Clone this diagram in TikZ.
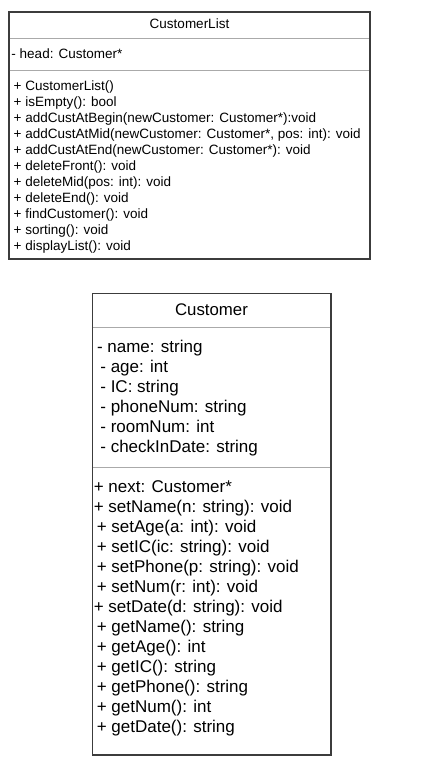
\documentclass[tikz,border=0pt]{standalone}
\usepackage{fontspec}
\setmainfont{Liberation Sans}
\definecolor{boxline}{RGB}{60,60,60}
\definecolor{sepline}{RGB}{170,170,170}
\begin{document}
\begin{tikzpicture}[x=1pt,y=-1pt,
  umlbox/.style={draw=boxline,line width=1.3pt,fill=white,inner sep=0pt},
  sep/.style={draw=sepline,line width=1pt},
  smalltxt/.style={anchor=base west,inner sep=0pt,font=\fontsize{13.5}{16}\selectfont},
  bigtxt/.style={anchor=base west,inner sep=0pt,font=\fontsize{17}{20}\selectfont},
  smalltitle/.style={anchor=base,inner sep=0pt,font=\fontsize{13.5}{16}\selectfont},
  bigtitle/.style={anchor=base,inner sep=0pt,font=\fontsize{16.8}{20}\selectfont}]
\useasboundingbox[fill=white] (0,0) rectangle (429,774);

% ---------- CustomerList ----------
\node[umlbox,minimum width=361pt,minimum height=247pt] (listbox) at (189.5,135.5) {};
\coordinate (ls1w) at (9.6,38.3);  \coordinate (ls1e) at (369.4,38.3);
\coordinate (ls2w) at (9.6,70);    \coordinate (ls2e) at (369.4,70);
\draw[sep] (ls1w) -- (ls1e);
\draw[sep] (ls2w) -- (ls2e);
\node[smalltitle] (listtitle) at (189.5,28.3) {CustomerList};
\node[smalltxt] (lhead) at (11.3,58) {- head: Customer*};
\foreach \t [count=\i from 0] in {%
  + CustomerList(),
  + isEmpty(): bool,
  + addCustAtBegin(newCustomer: Customer*):void,
  {+ addCustAtMid(newCustomer: Customer*, pos: int): void},
  + addCustAtEnd(newCustomer: Customer*): void,
  + deleteFront(): void,
  + deleteMid(pos: int): void,
  + deleteEnd(): void,
  + findCustomer(): void,
  + sorting(): void,
  + displayList(): void}
  \node[smalltxt] (lm\i) at (13.5,90.7+16*\i) {\t};

% ---------- Customer ----------
\node[umlbox,minimum width=238.3pt,minimum height=461.5pt] (custbox) at (211.85,524.25) {};
\coordinate (cs1w) at (93.4,327.3); \coordinate (cs1e) at (330.3,327.3);
\coordinate (cs2w) at (93.4,467);   \coordinate (cs2e) at (330.3,467);
\draw[sep] (cs1w) -- (cs1e);
\draw[sep] (cs2w) -- (cs2e);
\node[bigtitle] (custtitle) at (211.5,315) {Customer};

\node[bigtxt] (ca0) at (96.8,352.5) {- name: string};
\foreach \t [count=\i from 1] in {%
  - age: int,
  - IC: string,
  - phoneNum: string,
  - roomNum: int,
  - checkInDate: string}
  \node[bigtxt] (ca\i) at (100.2,352.5+20*\i) {\t};

\node[bigtxt] (cm0) at (93.6,492.5) {+ next: Customer*};
\node[bigtxt] (cm1) at (93.6,512.5) {+ setName(n: string): void};
\node[bigtxt] (cm2) at (96.6,532.5) {+ setAge(a: int): void};
\node[bigtxt] (cm3) at (96.6,552.5) {+ setIC(ic: string): void};
\node[bigtxt] (cm4) at (96.6,572.5) {+ setPhone(p: string): void};
\node[bigtxt] (cm5) at (96.6,592.5) {+ setNum(r: int): void};
\node[bigtxt] (cm6) at (93.6,612.5) {+ setDate(d: string): void};
\node[bigtxt] (cm7) at (96.6,632.5) {+ getName(): string};
\node[bigtxt] (cm8) at (96.6,652.5) {+ getAge(): int};
\node[bigtxt] (cm9) at (96.6,672.5) {+ getIC(): string};
\node[bigtxt] (cm10) at (96.6,692.5) {+ getPhone(): string};
\node[bigtxt] (cm11) at (96.6,712.5) {+ getNum(): int};
\node[bigtxt] (cm12) at (96.6,732.5) {+ getDate(): string};
\end{tikzpicture}
\end{document}
